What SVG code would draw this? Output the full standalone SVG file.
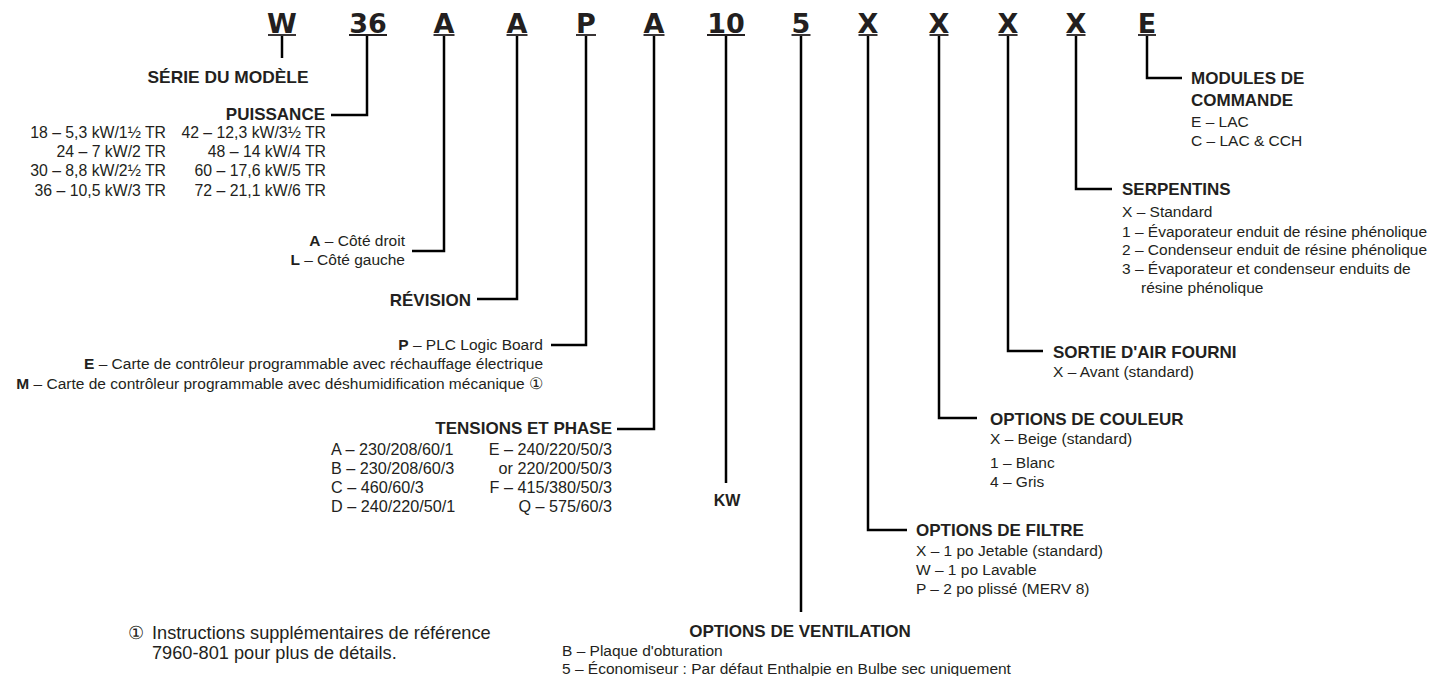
<svg xmlns="http://www.w3.org/2000/svg" width="1442" height="676" viewBox="0 0 1442 676">
<style>
text{font-family:"Liberation Sans",Arial,sans-serif;fill:#231f20}
.code{font-family:"DejaVu Sans","Liberation Sans",sans-serif;font-size:27px;font-weight:bold;text-anchor:middle}
.hdr{font-size:17px;font-weight:bold}
.txt{font-size:15.5px}
.big{font-size:15.8px}
.tab{font-size:16.2px}
.note{font-size:18.2px}
.b{font-weight:bold}
.end{text-anchor:end}
.mid{text-anchor:middle}
.ul{stroke:#231f20;stroke-width:1.8}
.conn{fill:none;stroke:#000;stroke-width:2.5;stroke-linejoin:miter;stroke-linecap:butt}
</style>
<rect width="1442" height="676" fill="#fff"/>

<g id="codes">
<g id="code-W"><text class="code" x="282" y="33">W</text><line class="ul" x1="268" y1="35" x2="296" y2="35"/></g>
<g id="code-36"><text class="code" x="368" y="33">36</text><line class="ul" x1="349" y1="35" x2="387" y2="35"/></g>
<g id="code-A1"><text class="code" x="444" y="33">A</text><line class="ul" x1="433.5" y1="35" x2="454.5" y2="35"/></g>
<g id="code-A2"><text class="code" x="517" y="33">A</text><line class="ul" x1="506.5" y1="35" x2="527.5" y2="35"/></g>
<g id="code-P"><text class="code" x="586" y="33">P</text><line class="ul" x1="576" y1="35" x2="596" y2="35"/></g>
<g id="code-A3"><text class="code" x="654" y="33">A</text><line class="ul" x1="643.5" y1="35" x2="664.5" y2="35"/></g>
<g id="code-10"><text class="code" x="726" y="33">10</text><line class="ul" x1="707" y1="35" x2="745" y2="35"/></g>
<g id="code-5"><text class="code" x="801" y="33">5</text><line class="ul" x1="791.5" y1="35" x2="810.5" y2="35"/></g>
<g id="code-X1"><text class="code" x="868" y="33">X</text><line class="ul" x1="858.5" y1="35" x2="877.5" y2="35"/></g>
<g id="code-X2"><text class="code" x="939" y="33">X</text><line class="ul" x1="929.5" y1="35" x2="948.5" y2="35"/></g>
<g id="code-X3"><text class="code" x="1008" y="33">X</text><line class="ul" x1="998.5" y1="35" x2="1017.5" y2="35"/></g>
<g id="code-X4"><text class="code" x="1076" y="33">X</text><line class="ul" x1="1066.5" y1="35" x2="1085.5" y2="35"/></g>
<g id="code-E"><text class="code" x="1147" y="33">E</text><line class="ul" x1="1138" y1="35" x2="1156" y2="35"/></g>
</g>

<g id="connectors">
<path class="conn" d="M282 36V58"/>
<path class="conn" d="M367 36V115H331"/>
<path class="conn" d="M444 36V251H412"/>
<path class="conn" d="M517 36V299H477"/>
<path class="conn" d="M586 36V345H551"/>
<path class="conn" d="M654 36V429H617"/>
<path class="conn" d="M726 36V483"/>
<path class="conn" d="M801 36V612"/>
<path class="conn" d="M868 36V530H907"/>
<path class="conn" d="M939 36V418H977"/>
<path class="conn" d="M1008 36V351H1043"/>
<path class="conn" d="M1076 36V189H1112"/>
<path class="conn" d="M1147 36V78H1182"/>
</g>

<g id="serie">
<text class="hdr mid" x="228" y="83" textLength="161" lengthAdjust="spacingAndGlyphs">SÉRIE DU MODÈLE</text>
</g>

<g id="puissance">
<text class="hdr end" x="325" y="120">PUISSANCE</text>
<text class="big end" x="166" y="138">18 – 5,3 kW/1½ TR</text>
<text class="big end" x="166" y="157">24 – 7 kW/2 TR</text>
<text class="big end" x="166" y="176">30 – 8,8 kW/2½ TR</text>
<text class="big end" x="166" y="196">36 – 10,5 kW/3 TR</text>
<text class="big end" x="326" y="138">42 – 12,3 kW/3½ TR</text>
<text class="big end" x="326" y="157">48 – 14 kW/4 TR</text>
<text class="big end" x="326" y="176">60 – 17,6 kW/5 TR</text>
<text class="big end" x="326" y="196">72 – 21,1 kW/6 TR</text>
</g>

<g id="cote">
<text class="txt end" x="405" y="246"><tspan class="b">A</tspan> – Côté droit</text>
<text class="txt end" x="405" y="265"><tspan class="b">L</tspan> – Côté gauche</text>
</g>

<g id="revision">
<text class="hdr end" x="471" y="306">RÉVISION</text>
</g>

<g id="logic">
<text class="txt end" x="543" y="350"><tspan class="b">P</tspan> – PLC Logic Board</text>
<text class="txt end" x="543" y="369"><tspan class="b">E</tspan> – Carte de contrôleur programmable avec réchauffage électrique</text>
<text class="txt end" x="543" y="389"><tspan class="b">M</tspan> – Carte de contrôleur programmable avec déshumidification mécanique ①</text>
</g>

<g id="tensions">
<text class="hdr end" x="612" y="434">TENSIONS ET PHASE</text>
<text class="tab" x="331" y="455">A – 230/208/60/1</text>
<text class="tab" x="331" y="474">B – 230/208/60/3</text>
<text class="tab" x="331" y="493">C – 460/60/3</text>
<text class="tab" x="331" y="512">D – 240/220/50/1</text>
<text class="tab end" x="612" y="455">E – 240/220/50/3</text>
<text class="tab end" x="612" y="474">or 220/200/50/3</text>
<text class="tab end" x="612" y="493">F – 415/380/50/3</text>
<text class="tab end" x="612" y="512">Q – 575/60/3</text>
</g>

<g id="kw">
<text class="mid b" x="727" y="506" style="font-size:16px">KW</text>
</g>

<g id="ventilation">
<text class="hdr mid" x="800" y="637">OPTIONS DE VENTILATION</text>
<text class="txt" x="562" y="656">B – Plaque d'obturation</text>
<text class="txt" x="562" y="674">5 – Économiseur : Par défaut Enthalpie en Bulbe sec uniquement</text>
</g>

<g id="filtre">
<text class="hdr" x="916" y="536">OPTIONS DE FILTRE</text>
<text class="txt" x="916" y="556">X – 1 po Jetable (standard)</text>
<text class="txt" x="916" y="575">W – 1 po Lavable</text>
<text class="txt" x="916" y="594">P – 2 po plissé (MERV 8)</text>
</g>

<g id="couleur">
<text class="hdr" x="990" y="425">OPTIONS DE COULEUR</text>
<text class="txt" x="990" y="444">X – Beige (standard)</text>
<text class="txt" x="990" y="468">1 – Blanc</text>
<text class="txt" x="990" y="487">4 – Gris</text>
</g>

<g id="sortie">
<text class="hdr" x="1053" y="358">SORTIE D'AIR FOURNI</text>
<text class="txt" x="1053" y="377">X – Avant (standard)</text>
</g>

<g id="serpentins">
<text class="hdr" x="1122" y="195">SERPENTINS</text>
<text class="txt" x="1122" y="217">X – Standard</text>
<text class="txt" x="1122" y="237">1 – Évaporateur enduit de résine phénolique</text>
<text class="txt" x="1122" y="255">2 – Condenseur enduit de résine phénolique</text>
<text class="txt" x="1122" y="274">3 – Évaporateur et condenseur enduits de</text>
<text class="txt" x="1141" y="293">résine phénolique</text>
</g>

<g id="modules">
<text class="hdr" x="1191" y="84">MODULES DE</text>
<text class="hdr" x="1191" y="106">COMMANDE</text>
<text class="txt" x="1191" y="127">E – LAC</text>
<text class="txt" x="1191" y="146">C – LAC &amp; CCH</text>
</g>

<g id="footnote">
<text class="note" x="128" y="639">①</text>
<text class="note" x="152" y="639">Instructions supplémentaires de référence</text>
<text class="note" x="152" y="659">7960-801 pour plus de détails.</text>
</g>
</svg>
